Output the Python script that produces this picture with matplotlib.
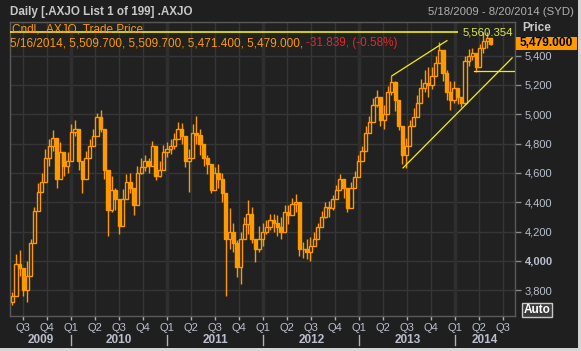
import pandas as pd
import matplotlib
matplotlib.use("Agg")
import matplotlib.pyplot as plt
from matplotlib.patches import Rectangle
from matplotlib.transforms import blended_transform_factory

plt.rcParams['font.family'] = ['Liberation Sans', 'DejaVu Sans']

W, H = 581, 351
BG = "#1f1f1f"
PLOT_BG = "#212121"
GRID = "#363636"
ORANGE = "#ff9900"
TXT = "#b9bfcf"

# two-weekly candles, 5/2009 .. 5/2014
closes = [3760, 3980, 3950, 3800, 3900, 4120, 4340, 4470, 4540, 4700,
          4780, 4840, 4560, 4740, 4650, 4680, 4880, 4900, 4680, 4560,
          4700, 4780, 4850, 4980, 4900, 4620, 4350, 4480, 4420, 4240,
          4420, 4540, 4500, 4380, 4600, 4640, 4680, 4650, 4780, 4580,
          4620, 4740, 4760, 4780, 4830, 4900, 4850, 4680, 4700, 4870,
          4860, 4800, 4700, 4660, 4480, 4600, 4560, 4460, 4150, 4200,
          4120, 3960, 4150, 4250, 4320, 4150, 4080, 4150, 4200, 4230,
          4280, 4260, 4230, 4200, 4330, 4310, 4390, 4400, 4080, 4080,
          4060, 4100, 4150, 4230, 4300, 4370, 4360, 4420, 4480, 4560,
          4500, 4360, 4500, 4570, 4680, 4750, 4870, 4950, 5060, 5120,
          4960, 5000, 5150, 5220, 5100, 4920, 4720, 4780, 4920, 4980,
          5080, 5180, 5210, 5200, 5260, 5350, 5440, 5280, 5150, 5100,
          5180, 5120, 5080, 5360, 5400, 5420, 5320, 5450, 5500, 5520,
          5479]
highs = [3790, 4050, 4075, 3950, 4000, 4150, 4370, 4530, 4600, 4760,
         4830, 4890, 4760, 4810, 4730, 4740, 4930, 4960, 4880, 4650,
         4750, 4830, 4900, 5010, 5030, 4850, 4540, 4580, 4500, 4380,
         4490, 4590, 4600, 4500, 4650, 4700, 4720, 4700, 4815, 4720,
         4680, 4790, 4810, 4830, 4870, 4945, 4940, 4800, 4760, 4930,
         4985, 4900, 4800, 4720, 4610, 4640, 4660, 4600, 4400, 4360,
         4260, 4140, 4200, 4300, 4415, 4370, 4150, 4240, 4260, 4280,
         4320, 4320, 4310, 4300, 4380, 4380, 4430, 4455, 4300, 4130,
         4150, 4160, 4200, 4260, 4340, 4400, 4410, 4450, 4520, 4590,
         4560, 4430, 4540, 4610, 4720, 4780, 4920, 4990, 5110, 5166,
         5060, 5060, 5190, 5260, 5230, 5060, 4900, 4840, 4960, 5040,
         5130, 5240, 5300, 5325, 5320, 5400, 5490, 5440, 5300, 5230,
         5230, 5170, 5120, 5400, 5445, 5450, 5400, 5480, 5560, 5560,
         5510]
lows = [3700, 3900, 3900, 3760, 3720, 4000, 4250, 4400, 4480, 4600,
        4650, 4750, 4500, 4620, 4580, 4600, 4700, 4850, 4620, 4460,
        4600, 4700, 4780, 4900, 4880, 4560, 4170, 4330, 4350, 4180,
        4340, 4450, 4460, 4310, 4500, 4590, 4610, 4600, 4660, 4550,
        4570, 4690, 4710, 4730, 4760, 4840, 4800, 4640, 4470, 4760,
        4800, 4720, 4650, 4590, 4460, 4500, 4500, 4400, 3760, 4080,
        4060, 3890, 3840, 4160, 4180, 4120, 3990, 4060, 4100, 4180,
        4210, 4200, 4170, 4150, 4240, 4250, 4320, 4330, 4030, 4020,
        4010, 4000, 4100, 4150, 4250, 4290, 4300, 4350, 4420, 4490,
        4430, 4330, 4400, 4520, 4620, 4680, 4800, 4880, 4990, 5050,
        4920, 4900, 5040, 5130, 5020, 4890, 4660, 4634, 4800, 4920,
        4990, 5080, 5150, 5120, 5170, 5260, 5360, 5230, 5100, 5030,
        5080, 5070, 5052, 5060, 5330, 5370, 5290, 5330, 5420, 5450,
        5471]
first_open = 3720
dates = pd.date_range(end="2014-05-16", periods=len(closes), freq="14D")

last_bar = "5/16/2014, 5,509.700, 5,509.700, 5,471.400, 5,479.000, "
last_chg = "-31.839, (-0.58%)"
last_price = "5,479.000"
high_line = 5560.354

# trend lines drawn on the chart (dates, prices)
upper_trend = (["2013-05-04", "2013-11-30"], [5261, 5502])
lower_trend = (["2013-06-16", "2014-08-05"], [4634, 5384])
support = (["2014-03-13", "2014-08-12"], [5295, 5295])

price_ticks = list(range(3800, 5401, 200))
quarters = pd.date_range("2009-07-01", "2014-07-01", freq="QS")
years = [2009, 2010, 2011, 2012, 2013, 2014]


def fx(x):
    return x / W


def fy(y):
    return 1 - y / H


fig = plt.figure(figsize=(W / 100, H / 100), dpi=100, facecolor=BG)
ax = fig.add_axes([fx(10), fy(316), 505 / W, 294 / H], facecolor=PLOT_BG)
x0, x1 = pd.Timestamp("2009-05-13"), pd.Timestamp("2014-08-16")
ax.set_xlim(x0, x1)
ax.set_ylim(3624, 5629)

# candles
opens = [first_open] + closes[:-1]
bottoms, heights, faces, his, los = [], [], [], [], []
for o, c, h, l in zip(opens, closes, highs, lows):
    top, bot = max(o, c), min(o, c)
    bottoms.append(bot)
    heights.append(max(top - bot, 2))
    faces.append(PLOT_BG if c >= o else ORANGE)
    his.append(max(h, top))
    los.append(min(l, bot))
ax.vlines(dates, los, his, color=ORANGE, lw=1, zorder=2)
ax.bar(dates, heights, bottom=bottoms, width=12, color=faces,
       edgecolor=ORANGE, linewidth=1.0, zorder=3)

# grid
ax.set_xticks(quarters)
ax.set_xticklabels([f"Q{(d.month - 1) // 3 + 1}" for d in quarters])
ax.set_axisbelow(True)
ax.grid(True, color=GRID, lw=1)
for y in years[1:]:
    ax.axvline(pd.Timestamp(f"{y}-01-01"), color="#2f2f2f", lw=2.5, zorder=0.6)

ax.yaxis.tick_right()
ax.set_yticks(price_ticks, labels=[f"{p:,}" for p in price_ticks])
for t in ax.get_yticklabels():
    if t.get_text() == "4,000":
        t.set_fontweight("bold")
ax.tick_params(axis="x", length=3, width=1, color="#b0b0b0",
               labelcolor=TXT, labelsize=8, pad=2)
ax.tick_params(axis="y", length=4, width=1, color="#8a8a8a",
               labelcolor=TXT, labelsize=8, pad=3)
for s in ax.spines.values():
    s.set_color("#5a5a5a")
    s.set_linewidth(1)

# years under the quarters
trans = blended_transform_factory(ax.transData, ax.transAxes)
for y in years:
    left = max(pd.Timestamp(f"{y}-01-01"), x0)
    right = min(pd.Timestamp(f"{y + 1}-01-01"), x1)
    ax.text(left + (right - left) / 2, -0.082, str(y), transform=trans,
            ha="center", va="center", fontsize=8.5, fontweight="bold", color=TXT)
    if y > 2009:
        d = pd.Timestamp(f"{y}-01-01")
        ax.plot([d, d], [-0.065, -0.099], transform=trans, clip_on=False,
                color="#b0b0b0", lw=1)

# annotations
ax.hlines(high_line, x0, pd.Timestamp("2014-01-11"), color="#f5f000", lw=1.2, zorder=5)
ax.text(pd.Timestamp("2014-01-30"), high_line, f"{high_line:,.3f}", color="#d9ec4c",
        fontsize=8.2, va="center", ha="left", zorder=5)
for xs, ys in (upper_trend, lower_trend, support):
    ax.plot(pd.to_datetime(xs), ys, color="#f5f000", lw=0.9, zorder=5)

# header and legend
fig.text(fx(10), fy(12), "Daily [.AXJO List 1 of 199] .AXJO", color="#c8c8c8",
         fontsize=8.4, fontweight="bold", va="center")
fig.text(fx(574), fy(12), "5/18/2009 - 8/20/2014 (SYD)", color="#b0b0b0",
         fontsize=8.2, va="center", ha="right")
fig.text(fx(12), fy(30), "Cndl, .AXJO, Trade Price", color=ORANGE,
         fontsize=8.5, va="center", zorder=1)
t1 = fig.text(fx(10), fy(43), last_bar, color=ORANGE, fontsize=8.5, va="center")
ax.annotate(last_chg, xy=(1, 0), xycoords=t1, va="bottom", ha="left",
            color="#e02a2a", fontsize=8.5, annotation_clip=False)

fig.text(fx(522), fy(28), "Price", color="#c8c8c8", fontsize=8.5,
         fontweight="bold", va="center")
fig.patches.append(Rectangle((fx(516), fy(50)), 61 / W, 13 / H,
                             transform=fig.transFigure, facecolor=ORANGE))
fig.text(fx(546.5), fy(43.5), last_price, color="black", fontsize=8.6,
         fontweight="bold", va="center", ha="center")
fig.text(fx(537), fy(310), "Auto", color="white", fontsize=8.5, fontweight="bold",
         va="center", ha="center",
         bbox=dict(boxstyle="square,pad=0.12", facecolor="#3a3a3a", edgecolor="#c8c8c8", lw=1))

# window border
fig.patches.append(Rectangle((fx(578), 0), 3 / W, 1, transform=fig.transFigure,
                             facecolor="#d6d6d6"))
fig.patches.append(Rectangle((0, 0), 1, 3 / H, transform=fig.transFigure,
                             facecolor="#d6d6d6"))

fig.savefig("out.png", dpi=100, facecolor=BG)
